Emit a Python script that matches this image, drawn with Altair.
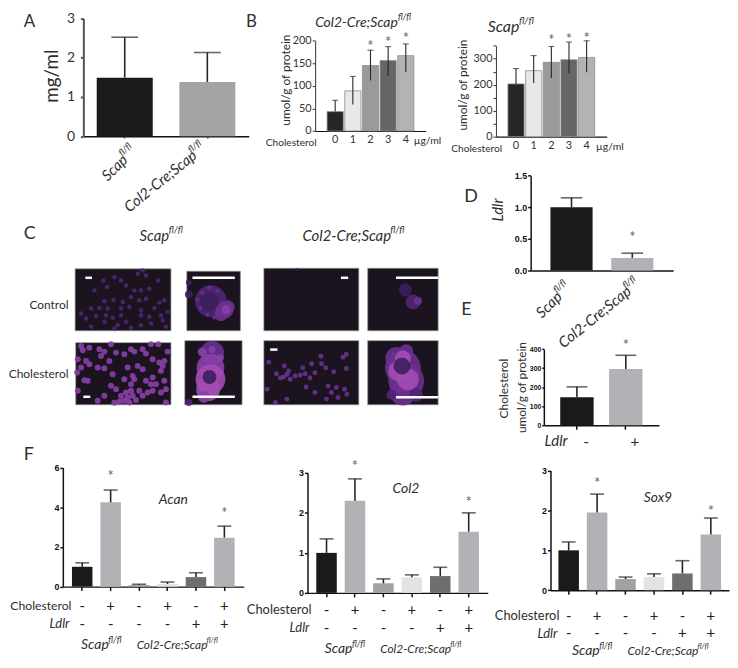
import math
import altair as alt
import pandas as pd

FONT = "Lato"
TICKFONT = "Liberation Sans"
W, H = 728, 658
BLACK, GREY, LIGHT, MID, SOFT = "#1a1a18", "#b3b1b5", "#e3e3e3", "#6e6e6e", "#a5a3a6"

# ---- values
a_cats = ["Scap", "Col2-Cre;Scap"]
a_vals = [1.49, 1.38]
a_hi = [2.52, 2.13]

b_doses = ["0", "1", "2", "3", "4"]
b1_vals = [43, 89, 145, 156, 167]
b1_hi = [68, 121, 179, 187, 193]
b1_lo = [43, 59, 112, 122, 130]
b1_star = [None, None, 195, 204, 212]
b2_vals = [203, 254, 286, 296, 305]
b2_hi = [262, 312, 347, 364, 369]
b2_lo = [203, 207, 226, 243, 248]
b2_star = [None, None, 385, 388, 391]
b_cols = ["#262626", "#e8e8e8", "#9a9a9a", "#666666", "#b3b3b3"]

d_vals = [1.0, 0.2]
d_hi = [1.15, 0.275]
d_star = [None, 0.58]
e_cats = ["-", "+"]
e_vals = [147, 296]
e_hi = [202, 368]
e_star = [None, 435]

f_cats = ["a", "b", "c", "d", "e", "f"]
f_chol = ["-", "+", "-", "+", "-", "+"]
f_ldlr = ["-", "-", "-", "-", "+", "+"]
f_cols = [BLACK, GREY, "#a3a1a3", LIGHT, MID, GREY]
f1_vals = [1.0, 4.25, 0.08, 0.13, 0.48, 2.47]
f1_hi = [1.2, 4.87, 0.12, 0.23, 0.7, 3.05]
f1_star = [None, 5.7, None, None, None, 3.85]
f2_vals = [1.0, 2.3, 0.24, 0.39, 0.42, 1.53]
f2_hi = [1.35, 2.85, 0.35, 0.45, 0.64, 2.0]
f2_star = [None, 3.25, None, None, None, 2.35]
f3_vals = [1.0, 1.95, 0.28, 0.33, 0.42, 1.4]
f3_hi = [1.21, 2.41, 0.33, 0.41, 0.74, 1.81]
f3_star = [None, 2.75, None, None, None, 2.05]

# micrograph blobs: (x, y, diameter, brightness level), x/y in reference crop units
shade = ["#2c1a44", "#3c1f5c", "#4f2574", "#6a3190", "#8a3fa8", "#a24db4"]
c_tl_pts = [(97,45),(130,35),(200,25),(225,30),(262,45),(215,15),(108,65),(70,75),(165,60),(190,75),
            (210,75),(235,70),(180,95),(127,103),(100,108),(155,110),(205,105),(225,100),(265,112),(280,105),
            (60,130),(85,128),(110,130),(150,130),(175,125),(210,135),(250,128),(75,152),(105,150),(125,158),
            (150,150),(210,150),(235,155),(270,150),(290,140),(45,160),(60,185),(165,170),(140,180),(100,170),
            (210,180),(240,175),(275,165),(285,185),(130,190),(180,188),(30,145),(150,45)]
c_bl_pts = [(30,245),(20,285),(35,258),(55,250),(85,255),(100,262),(120,240),(135,265),(90,275),(160,270),
            (180,255),(190,262),(215,255),(225,268),(240,240),(262,240),(290,262),(245,285),(265,295),(280,290),
            (270,320),(275,305),(55,300),(45,290),(30,310),(80,310),(100,312),(115,290),(170,310),(200,305),
            (215,315),(18,325),(40,348),(50,350),(125,330),(185,335),(190,345),(245,340),(225,350),(180,360),
            (160,345),(255,360),(280,350),(120,365),(135,375),(150,395),(165,385),(180,380),(170,400),(185,395),
            (160,410),(175,415),(195,408),(145,412),(205,380),(230,385),(245,380),(270,385),(285,375),(20,380),
            (100,395),(80,410),(130,416),(215,395),(285,415),(240,360)]
c_mr_pts = [(100,4)]
c_br_pts = [(25,73),(48,108),(72,85),(70,118),(85,100),(90,125),(105,115),(128,90),(135,108),(155,78),
            (150,120),(165,105),(185,78),(198,90),(222,102),(260,92),(260,50),(183,55),(250,58),(138,148),
            (165,165),(205,145),(215,165),(255,155),(262,170),(80,185),(45,195),(20,155),(200,185),(235,180),
            (230,150),(120,112),(60,120),(80,110)]
cell_tr = [(20,90,8,1),(20,55,6,1),(85,110,32,2),(125,135,18,3),(135,128,14,3),(115,150,13,3),
           (60,85,4,3),(80,70,4,3),(105,80,4,3),(45,105,4,3),(55,130,4,3),(75,150,4,3),(95,158,4,3),
           (130,135,9,4),(80,112,19,1)]
cell_brl = [(90,265,24,3),(60,262,9,4),(90,255,7,4),(115,280,7,4),(85,310,28,4),(85,345,30,5),
            (78,375,24,5),(65,398,12,4),(20,415,7,2),(82,338,14,1)]
cell_trm = [(115,85,13,1),(130,118,15,2),(140,115,8,3)]
cell_brm = [(410,60,22,3),(440,40,14,3),(430,90,36,3),(440,130,36,3),(430,165,26,3),(470,172,14,2),
            (395,172,10,2),(415,100,20,5),(445,125,22,5),(430,62,16,5),(427,85,17,1)]


def tx(s, x, y, size=12, italic=False, bold=False, align="left", angle=0, color="#2e2e2e", font=FONT, baseline="middle"):
    kw = dict(fontSize=size, align=align, baseline=baseline, color=color, font=font)
    if italic:
        kw["fontStyle"] = "italic"
    if bold:
        kw["fontWeight"] = "bold"
    if angle:
        kw["angle"] = angle
    return alt.Chart(pd.DataFrame({"t": [s]})).mark_text(**kw).encode(
        text="t:N", x=alt.value(x - 8), y=alt.value(y - 8))


def sup(main, x, y, w, size, theta=0, super_size=None):
    """Italic text followed by a raised fl/fl, both along the same (possibly rotated) baseline."""
    ang = (360 - theta) % 360
    t = math.radians(theta)
    ss = super_size or size * 0.62
    sx = x + (w + 0.5) * math.cos(t) - 0.38 * size * math.sin(t)
    sy = y - (w + 0.5) * math.sin(t) - 0.38 * size * math.cos(t)
    return [tx(main, x, y, size, italic=True, angle=ang), tx("fl/fl", sx, sy, ss, italic=True, angle=ang)]


def bars(cats, vals, hi, lo, cols, xr, yr, dom, vals_y, barw, step, capw,
         stars=None, stroke=None, labels=False, ticksx=False, yaxis=None, xaxis=None, errw=1.6, caph=1.6,
         row1=None, row2=None, y_rows=None, sign_size=15):
    n = len(cats)
    pi = 1 - barw / step
    po = ((xr[1] - xr[0]) / step - (n - pi)) / 2
    xs = alt.Scale(type="band", domain=cats, range=[xr[0] - 8, xr[1] - 8], paddingInner=pi, paddingOuter=po)
    ys = alt.Scale(domain=dom, range=[yr[0] - 8, yr[1] - 8], nice=False)
    ya = dict(orient="left", offset=-(xr[0] - 8), values=vals_y, title=None, grid=False,
              domainColor="#111", tickColor="#111", labelColor="#111", labelFont=TICKFONT, labelFontWeight="bold",
              labelFontSize=9, domainWidth=1.5, tickWidth=1.5, tickSize=3, labelPadding=1, labelFlush=False,
              labelOverlap=False)
    ya.update(yaxis or {})
    xa = dict(orient="bottom", offset=(yr[0] - 8) - H, title=None, grid=False, labels=labels, ticks=ticksx,
              domainColor="#111", tickColor="#111", domainWidth=1.5, tickWidth=1.5, tickSize=4, labelAngle=0,
              labelFont=FONT, labelFontSize=11, labelColor="#333", labelPadding=3)
    xa.update(xaxis or {})
    df = pd.DataFrame({"c": cats, "v": vals, "hi": hi, "lo": lo if lo else vals, "col": cols})
    X = alt.X("c:N", sort=None, scale=xs, axis=None)
    mk = dict(stroke=stroke, strokeWidth=0.8) if stroke else {}
    base = alt.Chart(df)
    L = [
        base.mark_bar(**mk).encode(
            x=alt.X("c:N", sort=None, scale=xs, axis=alt.Axis(**xa)),
            y=alt.Y("v:Q", scale=ys, axis=alt.Axis(**ya)),
            color=alt.Color("col:N", scale=None)),
        base.mark_rule(color="#262626", strokeWidth=errw).encode(
            x=X, y=alt.Y("lo:Q", scale=ys, axis=None), y2="hi:Q"),
        base.mark_tick(color="#262626", size=capw, thickness=caph).encode(
            x=X, y=alt.Y("hi:Q", scale=ys, axis=None)),
    ]
    if stars:
        sd = pd.DataFrame({"c": cats, "s": stars}).dropna()
        sd["t"] = "*"
        L.append(alt.Chart(sd).mark_text(fontSize=15, color="#666", font=FONT, baseline="middle", dy=3).encode(
            x=X, y=alt.Y("s:Q", scale=ys, axis=None), text="t:N"))
    if row1:
        for r, yy in zip((row1, row2), y_rows):
            rd = pd.DataFrame({"c": cats, "t": r})
            L.append(alt.Chart(rd).mark_text(fontSize=sign_size, color="#222", font=FONT, baseline="middle").encode(
                x=X, y=alt.value(yy - 8), text="t:N"))
    return L


def image(pts, ext, page, level, d, cells=()):
    xs = alt.Scale(domain=[ext[0], ext[1]], range=[page[0] - 8, page[1] - 8], nice=False, zero=False)
    ys = alt.Scale(domain=[ext[2], ext[3]], range=[page[2] - 8, page[3] - 8], nice=False, zero=False)
    bg = pd.DataFrame({"x": [ext[0]], "x2": [ext[1]], "y": [ext[2]], "y2": [ext[3]]})
    L = [alt.Chart(bg).mark_rect(color="#1b141f", stroke="#8f8f8f", strokeWidth=0.7).encode(
        x=alt.X("x:Q", scale=xs, axis=None), x2="x2:Q",
        y=alt.Y("y:Q", scale=ys, axis=None), y2="y2:Q")]
    rows = [(p[0], p[1], d, shade[level]) for p in pts] + [(c[0], c[1], c[2], shade[c[3]]) for c in cells]
    if rows:
        df = pd.DataFrame(rows, columns=["x", "y", "d", "col"])
        df["s"] = df["d"] ** 2
        L.append(alt.Chart(df).mark_point(filled=True, opacity=0.9).encode(
            x=alt.X("x:Q", scale=xs, axis=None), y=alt.Y("y:Q", scale=ys, axis=None),
            size=alt.Size("s:Q", scale=None), color=alt.Color("col:N", scale=None)))
    return L


def scalebar(x1, x2, y):
    return alt.Chart(pd.DataFrame({"a": [0]})).mark_rule(color="white", strokeWidth=2.5).encode(
        x=alt.value(x1 - 8), x2=alt.value(x2 - 8), y=alt.value(y - 8))


big_y = dict(domainColor="#555", tickColor="#555", labelColor="#333", labelFont=FONT, labelFontWeight="normal",
             labelFontSize=14, domainWidth=2, tickWidth=2, tickSize=3, labelPadding=6)
b_y = dict(domainColor="#333", tickColor="#333", labelColor="#333", labelFont=FONT, labelFontWeight="normal",
           labelFontSize=11, domainWidth=1, tickWidth=1, tickSize=3, labelPadding=1)
b_x = dict(labels=True, domainWidth=1.2, labelPadding=3)

layers = []
# A
layers += bars(a_cats, a_vals, a_hi, None, [BLACK, SOFT], (84, 250.7), (134.5, 15.7), [0, 3], [0, 1, 2, 3],
               56.5, 83.3, 27, yaxis=big_y, ticksx=True, xaxis=dict(tickSize=2, tickColor="#777", domainWidth=1.5))
layers += [tx("A", 24, 19, 17), tx("B", 248, 19, 17), tx("mg/ml", 52, 74, 19, align="center", angle=270)]
layers += sup("Scap", 105, 177, 28, 15, 45)
layers += sup("Col2-Cre;Scap", 127, 208, 86, 15, 39)

# B
layers += bars(b_doses, b1_vals, b1_hi, b1_lo, b_cols, (317.7, 429.3), (129.3, 38.3), [0, 200], [0, 50, 100, 150, 200],
               16.3, 17.8, 6, stars=b1_star, stroke="#8c8c8c", labels=True, yaxis=b_y, xaxis=b_x, errw=1.1, caph=1.1)
layers += bars(b_doses, b2_vals, b2_hi, b2_lo, b_cols, (500, 611.7), (135, 43.3), [0, 350],
               [0, 50, 100, 150, 200, 250, 300, 350],
               16.3, 17.8, 6, stars=b2_star, stroke="#8c8c8c", labels=True, errw=1.1, caph=1.1,
               yaxis=dict(b_y, labelExpr="datum.value % 100 == 0 ? datum.label : ''"), xaxis=b_x)
layers += sup("Col2-Cre;Scap", 317.7, 20, 83, 14)
layers += sup("Scap", 491.7, 24, 31, 16)
layers += [
    tx("umol/g of protein", 288, 78, 12, align="center", angle=270),
    tx("Cholesterol", 268, 141, 10.2), tx("µg/ml", 417, 139, 10.5),
    tx("umol/g of protein", 467, 83, 12, align="center", angle=270),
    tx("Cholesterol", 455, 147, 10.2), tx("µg/ml", 601, 145, 10.5),
]

# C
layers += [tx("C", 24, 233, 18), tx("Control", 69, 305, 12, align="right"), tx("Cholesterol", 69, 374, 12, align="right")]
layers += sup("Scap", 140.7, 235, 29, 15)
layers += sup("Col2-Cre;Scap", 305, 235, 88, 15)
layers += image(c_tl_pts, (12, 300, 10, 197), (75.7, 172.3, 268.3, 330.7), 2, 4.5)
layers += image((), (14, 172, 22, 197), (188.3, 242.3, 270.7, 330.7), 2, 5, cell_tr)
layers += image(c_bl_pts, (14, 300, 235, 422), (76.3, 172.3, 342.7, 405.3), 4, 6)
layers += image((), (8, 180, 228, 422), (186.3, 244, 340.7, 405.3), 4, 5, cell_brl)
layers += image(c_mr_pts, (0, 288, 0, 189), (266, 361.7, 267.7, 330.7), 1, 3)
layers += image((), (40, 180, 25, 197), (370.7, 441.7, 267.7, 330.7), 2, 5, cell_trm)
layers += image(c_br_pts, (10, 298, 8, 202), (266, 361.7, 340.7, 405.3), 3, 5)
layers += image((), (323, 537, 8, 202), (370.7, 441.7, 340.7, 405.3), 4, 5, cell_brm)
for x1, x2, y in [(86, 92.7, 277.3), (194, 236.7, 277.3), (84, 91, 397.3), (194, 236.7, 397.3),
                  (343.7, 351, 277.3), (399.3, 441.7, 277.3), (272.3, 279.7, 349.7), (399.3, 441.7, 397.7)]:
    layers.append(scalebar(x1, x2, y))

# D
layers += bars(["Scap", "Col2"], d_vals, d_hi, None, [BLACK, GREY], (535, 678.7), (270, 174.3), [0, 1.5],
               [0, 0.5, 1.0, 1.5], 42.5, 61.3, 21.7, stars=d_star,
               yaxis=dict(format=".1f"))
layers += [tx("D", 468, 196, 18), tx("Ldlr", 501.7, 209, 15, italic=True, align="center", angle=270)]
layers += sup("Scap", 543, 315, 28, 15, 45)
layers += sup("Col2-Cre;Scap", 565, 345, 86, 15, 39)

# E
layers += bars(e_cats, e_vals, e_hi, None, [BLACK, GREY], (548.3, 664.3), (426, 349.3), [0, 400],
               [0, 100, 200, 300, 400], 33.7, 49.3, 21, stars=e_star, ticksx=True,
               yaxis=dict(labelFontSize=7, tickSize=2))
layers += [tx("E", 465, 310, 18), tx("Cholesterol", 508, 389, 12, align="center", angle=270),
           tx("umol/g of protein", 526, 388, 12, align="center", angle=270),
           tx("Ldlr", 549, 442, 15, italic=True), tx("-", 591, 443, 16, align="center"), tx("+", 640, 443, 16, align="center")]

# F
fkw = dict(barw=20.67, step=28.67, capw=14, ticksx=True, row1=f_chol, row2=f_ldlr)
layers += bars(f_cats, f1_vals, f1_hi, None, f_cols, (63.3, 245.7), (588.7, 468.7), [0, 6], [0, 2, 4, 6],
               stars=f1_star, y_rows=(608, 626.7), **fkw)
layers += bars(f_cats, f2_vals, f2_hi, None, f_cols, (310, 491.7), (595, 474), [0, 3], [0, 1, 2, 3],
               stars=f2_star, y_rows=(612.7, 630), **fkw)
layers += bars(f_cats, f3_vals, f3_hi, None, f_cols, (555, 735), (592.3, 471.7), [0, 3], [0, 1, 2, 3],
               stars=f3_star, y_rows=(618, 636), **fkw)
layers += [tx("F", 24, 456, 18), tx("Acan", 160, 501.7, 14, italic=True), tx("Col2", 395.7, 490, 14, italic=True),
           tx("Sox9", 649, 499.3, 14, italic=True)]
for endx, y1, y2, sx, cx, y3, cs in [(72, 608, 626.7, 81.7, 137.7, 648, 12.3),
                                     (314, 612.7, 630, 327.3, 383.3, 652, 13),
                                     (564, 618, 636, 576.7, 632.7, 654, 13)]:
    layers.append(tx("Cholesterol", endx, y1, cs, align="right"))
    layers.append(tx("Ldlr", endx - 2, y2, 13, italic=True, align="right"))
    layers += sup("Scap", sx, y3, 27, 14)
    layers += sup("Col2-Cre;Scap", cx, y3, 70, 12)

chart = alt.layer(*layers).resolve_scale(x="independent", y="independent").properties(
    width=W, height=H, padding=0, autosize=alt.AutoSizeParams(type="none")
).configure_view(stroke=None)

chart.save("out.html", embed_options={"renderer": "svg", "actions": False})
